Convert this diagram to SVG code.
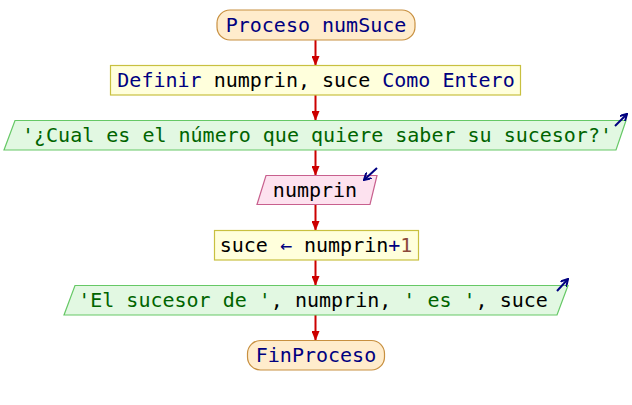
<svg xmlns="http://www.w3.org/2000/svg" width="632" height="405" viewBox="0 0 632 405">
  <style>
    text { font-family: "DejaVu Sans Mono", "Liberation Mono", monospace; font-size: 20px; text-anchor: middle; fill: #000; }
    .kw { fill: #000080; }
    .str { fill: #006400; }
    .num { fill: #8b4a3a; }
    .term { fill: #ffeccc; stroke: #c89040; stroke-width: 1.2; }
    .proc { fill: #ffffdc; stroke: #c8c040; stroke-width: 1.2; }
    .out { fill: #e2f8e2; stroke: #66c866; stroke-width: 1.2; }
    .in { fill: #fde2ef; stroke: #c8608e; stroke-width: 1.2; }
    .flow { stroke: #cc0000; stroke-width: 2; fill: none; marker-end: url(#head); }
    .io { stroke: #000080; stroke-width: 2; fill: none; marker-end: url(#ioHead); }
  </style>
  <defs>
    <marker id="head" markerWidth="10" markerHeight="8" refX="9" refY="4" orient="auto" markerUnits="userSpaceOnUse">
      <path d="M0,0 L10,4 L0,8 Z" fill="#cc0000"/>
    </marker>
    <marker id="ioHead" markerWidth="8" markerHeight="8" refX="7" refY="4" orient="auto" markerUnits="userSpaceOnUse">
      <path d="M0,0 L7,4 L0,8" fill="none" stroke="#000080" stroke-width="2"/>
    </marker>
  </defs>

  <rect width="632" height="405" fill="#ffffff"/>

  <!-- connectors -->
  <g id="connectors">
    <line class="flow" x1="315.5" y1="40" x2="315.5" y2="65"/>
    <line class="flow" x1="315.5" y1="95" x2="315.5" y2="120"/>
    <line class="flow" x1="315.5" y1="150" x2="315.5" y2="175"/>
    <line class="flow" x1="315.5" y1="205" x2="315.5" y2="230"/>
    <line class="flow" x1="315.5" y1="260" x2="315.5" y2="285"/>
    <line class="flow" x1="315.5" y1="315" x2="315.5" y2="340"/>
  </g>

  <!-- start -->
  <g id="start">
    <rect class="term" x="217" y="10" width="198" height="30" rx="13" ry="13"/>
    <text x="316" y="32" class="kw">Proceso numSuce</text>
  </g>

  <!-- declaration -->
  <g id="define">
    <rect class="proc" x="110.5" y="65.5" width="410" height="29.5"/>
    <text x="316" y="87"><tspan class="kw">Definir</tspan> numprin, suce <tspan class="kw">Como Entero</tspan></text>
  </g>

  <!-- question output -->
  <g id="askOutput">
    <polygon class="out" points="15,120.5 626,120.5 616,150 4,150"/>
    <text x="317" y="142" class="str">'¿Cual es el número que quiere saber su sucesor?'</text>
    <line class="io" x1="615" y1="126" x2="627" y2="114"/>
  </g>

  <!-- read input -->
  <g id="readInput">
    <polygon class="in" points="266,175.5 377,175.5 370,204.5 257,204.5"/>
    <text x="315" y="197">numprin</text>
    <line class="io" x1="377" y1="168" x2="364" y2="180"/>
  </g>

  <!-- assignment -->
  <g id="assign">
    <rect class="proc" x="214.5" y="230.5" width="204" height="29.5"/>
    <text x="316" y="252">suce <tspan class="kw">←</tspan> numprin<tspan class="kw">+</tspan><tspan class="num">1</tspan></text>
  </g>

  <!-- result output -->
  <g id="resultOutput">
    <polygon class="out" points="75,285.5 568,285.5 557,315 64,315"/>
    <text x="313" y="307"><tspan class="str">'El sucesor de '</tspan>, numprin, <tspan class="str">' es '</tspan>, suce</text>
    <line class="io" x1="557" y1="291" x2="568" y2="279"/>
  </g>

  <!-- end -->
  <g id="end">
    <rect class="term" x="247.5" y="340.5" width="137" height="29.5" rx="13" ry="13"/>
    <text x="316" y="362" class="kw">FinProceso</text>
  </g>
</svg>
